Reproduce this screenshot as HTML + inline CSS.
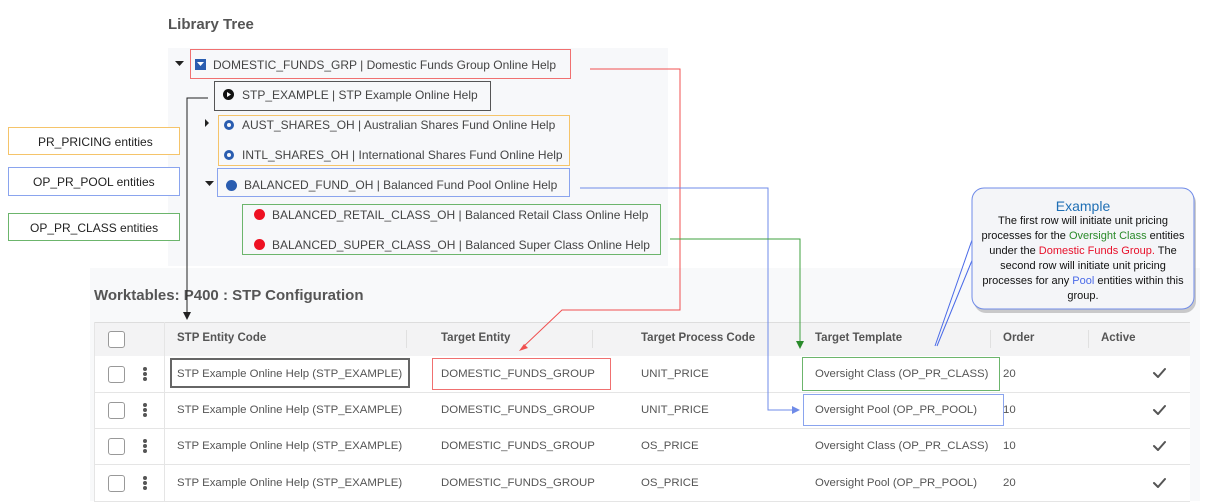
<!DOCTYPE html>
<html><head><style>
body{margin:0;width:1208px;height:501px;background:#fff;position:relative;overflow:hidden;font-family:"Liberation Sans",sans-serif;}
.a{position:absolute;white-space:nowrap}
.t{font-size:12px;color:#444}
.c{font-size:11.4px;color:#555}
.b{position:absolute;box-sizing:border-box}
.cb{position:absolute;width:15px;height:15px;border:1px solid #999;border-radius:3px;background:#fff;left:108px}
.dot{position:absolute;left:143px;width:4px;height:4px;border-radius:50%;background:#555}
.row{position:absolute;left:94px;width:1096px;border-bottom:1px solid #e5e5e5;background:#fff}
.th{font-size:11.5px;font-weight:bold;color:#555}
</style></head><body>
<div class="a" style="left:168px;top:16px;font-size:15px;font-weight:bold;color:#555">Library Tree</div>
<div class="b" style="left:168px;top:48px;width:500px;height:218px;background:#f7f8fa"></div>
<div class="b" style="left:90px;top:268px;width:1110px;height:233px;background:#f8f9fa"></div>

<div class="b" style="left:190px;top:49px;width:381px;height:30px;border:1.5px solid #f07070"></div>
<div class="b" style="left:214px;top:81px;width:277px;height:30px;border:1.5px solid #555"></div>
<div class="b" style="left:218px;top:115px;width:352px;height:51px;border:1.5px solid #f5c46a"></div>
<div class="b" style="left:217px;top:168px;width:353px;height:29px;border:1.5px solid #8aa4ee"></div>
<div class="b" style="left:242px;top:204px;width:419px;height:51px;border:1.5px solid #6cb56c"></div>

<svg class="b" style="left:0;top:0" width="700" height="260">
<path d="M175 61h9l-4.5 5z" fill="#222"/>
<rect x="195" y="59" width="11" height="11" fill="#2a5db0"/>
<path d="M197 62h7l-3.5 4z" fill="#fff"/>
<path d="M205 119v8l4-4z" fill="#222"/>
<path d="M205 181h9l-4.5 5z" fill="#222"/>
<path d="M227 91l5 3.5-5 3.5z" fill="#fff"/>
</svg>
<div class="b" style="left:223px;top:89px;width:11px;height:11px;border-radius:50%;background:#111"></div>
<svg class="b" style="left:223px;top:89px" width="11" height="11"><path d="M4 3l4 2.5-4 2.5z" fill="#fff"/></svg>
<div class="a t" style="left:213px;top:58px">DOMESTIC_FUNDS_GRP | Domestic Funds Group Online Help</div>
<div class="a t" style="left:242px;top:88px">STP_EXAMPLE | STP Example Online Help</div>
<div class="b" style="left:224px;top:120px;width:10px;height:10px;border-radius:50%;border:3px solid #2a5db0"></div>
<div class="a t" style="left:242px;top:118px">AUST_SHARES_OH | Australian Shares Fund Online Help</div>
<div class="b" style="left:224px;top:150px;width:10px;height:10px;border-radius:50%;border:3px solid #2a5db0"></div>
<div class="a t" style="left:242px;top:148px">INTL_SHARES_OH | International Shares Fund Online Help</div>
<div class="b" style="left:226px;top:180px;width:11px;height:11px;border-radius:50%;background:#2a5db0"></div>
<div class="a t" style="left:244px;top:178px">BALANCED_FUND_OH | Balanced Fund Pool Online Help</div>
<div class="b" style="left:254px;top:209px;width:11px;height:11px;border-radius:50%;background:#ee1122"></div>
<div class="a t" style="left:272px;top:208px">BALANCED_RETAIL_CLASS_OH | Balanced Retail Class Online Help</div>
<div class="b" style="left:254px;top:239px;width:11px;height:11px;border-radius:50%;background:#ee1122"></div>
<div class="a t" style="left:272px;top:238px">BALANCED_SUPER_CLASS_OH | Balanced Super Class Online Help</div>

<div class="b" style="left:8px;top:127px;width:172px;height:28px;border:1px solid #f5c46a;background:#fff"></div>
<div class="a t" style="left:38px;top:135px;color:#222">PR_PRICING entities</div>
<div class="b" style="left:8px;top:167px;width:172px;height:29px;border:1px solid #8aa4ee;background:#fff"></div>
<div class="a t" style="left:33px;top:175px;color:#222">OP_PR_POOL entities</div>
<div class="b" style="left:8px;top:213px;width:172px;height:28px;border:1px solid #6cb56c;background:#fff"></div>
<div class="a t" style="left:30px;top:221px;color:#222">OP_PR_CLASS entities</div>

<div class="a" style="left:94px;top:287px;font-size:15px;font-weight:bold;color:#555">Worktables: P400 : STP Configuration</div>

<div class="row" style="top:322px;height:33px;background:#f3f3f4;border-top:1px solid #ddd"></div>
<div class="row" style="top:356px;height:36px"></div>
<div class="row" style="top:393px;height:35px"></div>
<div class="row" style="top:429px;height:35px"></div>
<div class="row" style="top:465px;height:36px"></div>
<div class="b" style="left:164px;top:322px;width:1px;height:179px;background:#e5e5e5"></div>
<div class="b" style="left:94px;top:322px;width:1px;height:179px;background:#e5e5e5"></div>
<div class="b" style="left:406px;top:330px;width:1px;height:18px;background:#e0e0e0"></div>
<div class="b" style="left:592px;top:330px;width:1px;height:18px;background:#e0e0e0"></div>
<div class="b" style="left:990px;top:330px;width:1px;height:18px;background:#e0e0e0"></div>
<div class="b" style="left:1088px;top:330px;width:1px;height:18px;background:#e0e0e0"></div>

<div class="cb" style="top:331px"></div>
<div class="a th" style="left:177px;top:332px">STP Entity Code</div>
<div class="a th" style="left:441px;top:332px">Target Entity</div>
<div class="a th" style="left:641px;top:332px">Target Process Code</div>
<div class="a th" style="left:815px;top:332px">Target Template</div>
<div class="a th" style="left:1003px;top:332px">Order</div>
<div class="a th" style="left:1101px;top:332px">Active</div>

<div class="b" style="left:170px;top:358px;width:240px;height:30px;border:2px solid #666"></div>
<div class="b" style="left:432px;top:358px;width:179px;height:32px;border:1.5px solid #f07070"></div>
<div class="b" style="left:802px;top:357px;width:198px;height:34px;border:1.5px solid #6cb56c"></div>
<div class="b" style="left:803px;top:394px;width:201px;height:32px;border:1.5px solid #8aa4ee"></div>

<div class="cb" style="top:366px"></div><div class="cb" style="top:402px"></div><div class="cb" style="top:438px"></div><div class="cb" style="top:475px"></div>
<div class="dot" style="top:367px"></div><div class="dot" style="top:372px"></div><div class="dot" style="top:377px"></div>
<div class="dot" style="top:403px"></div><div class="dot" style="top:408px"></div><div class="dot" style="top:413px"></div>
<div class="dot" style="top:439px"></div><div class="dot" style="top:444px"></div><div class="dot" style="top:449px"></div>
<div class="dot" style="top:476px"></div><div class="dot" style="top:481px"></div><div class="dot" style="top:486px"></div>

<div class="a c" style="left:177px;top:368px">STP Example Online Help (STP_EXAMPLE)</div>
<div class="a c" style="left:441px;top:368px">DOMESTIC_FUNDS_GROUP</div>
<div class="a c" style="left:641px;top:368px">UNIT_PRICE</div>
<div class="a c" style="left:815px;top:368px">Oversight Class (OP_PR_CLASS)</div>
<div class="a c" style="left:1003px;top:368px">20</div>
<div class="a c" style="left:177px;top:404px">STP Example Online Help (STP_EXAMPLE)</div>
<div class="a c" style="left:441px;top:404px">DOMESTIC_FUNDS_GROUP</div>
<div class="a c" style="left:641px;top:404px">UNIT_PRICE</div>
<div class="a c" style="left:815px;top:404px">Oversight Pool (OP_PR_POOL)</div>
<div class="a c" style="left:1003px;top:404px">10</div>
<div class="a c" style="left:177px;top:440px">STP Example Online Help (STP_EXAMPLE)</div>
<div class="a c" style="left:441px;top:440px">DOMESTIC_FUNDS_GROUP</div>
<div class="a c" style="left:641px;top:440px">OS_PRICE</div>
<div class="a c" style="left:815px;top:440px">Oversight Class (OP_PR_CLASS)</div>
<div class="a c" style="left:1003px;top:440px">10</div>
<div class="a c" style="left:177px;top:477px">STP Example Online Help (STP_EXAMPLE)</div>
<div class="a c" style="left:441px;top:477px">DOMESTIC_FUNDS_GROUP</div>
<div class="a c" style="left:641px;top:477px">OS_PRICE</div>
<div class="a c" style="left:815px;top:477px">Oversight Pool (OP_PR_POOL)</div>
<div class="a c" style="left:1003px;top:477px">20</div>

<svg class="b" style="left:0;top:0" width="1208" height="501">
<g fill="none" stroke="#555" stroke-width="2" stroke-linecap="round" stroke-linejoin="round">
<path d="M1154 373l4 4 7-8M1154 410l4 4 7-8M1154 446l4 4 7-8M1154 483l4 4 7-8"/></g>
<path d="M208 98H187V315" fill="none" stroke="#222" stroke-width="1"/>
<path d="M183 312l4 8 4-8z" fill="#222"/>
<path d="M590 69H680V310H562L522 348" fill="none" stroke="#f05050" stroke-width="1"/>
<path d="M519 351l9-3-4-4z" fill="#f05050"/>
<path d="M580 188H768V410H795" fill="none" stroke="#6f8be8" stroke-width="1"/>
<path d="M792 406l8 4-8 4z" fill="#6f8be8"/>
<path d="M670 239H800V344" fill="none" stroke="#3fa03f" stroke-width="1"/>
<path d="M796 341l4 8 4-8z" fill="#2a8a2a"/>
<path d="M935 346L972 240M937 346L973 258" fill="none" stroke="#4a6ae8" stroke-width="1"/>
<rect x="974" y="191" width="222" height="122" rx="12" fill="#999" opacity=".5"/>
<rect x="972" y="188" width="222" height="121" rx="12" fill="#f4f5f8" stroke="#6f8be8" stroke-width="1"/>
</svg>
<div class="a" style="left:972px;top:198px;width:222px;text-align:center;font-size:14px;color:#1f6fb5">Example</div>
<div class="a" style="left:976px;top:214px;width:214px;text-align:center;font-size:11px;line-height:15px;color:#111;white-space:normal">The first row will initiate unit pricing processes for the <span style="color:#2a8a2a">Oversight Class</span> entities under the <span style="color:#e8102a">Domestic Funds Group.</span> The second row will initiate unit pricing processes for any <span style="color:#4a6ae8">Pool</span> entities within this group.</div>
</body></html>
